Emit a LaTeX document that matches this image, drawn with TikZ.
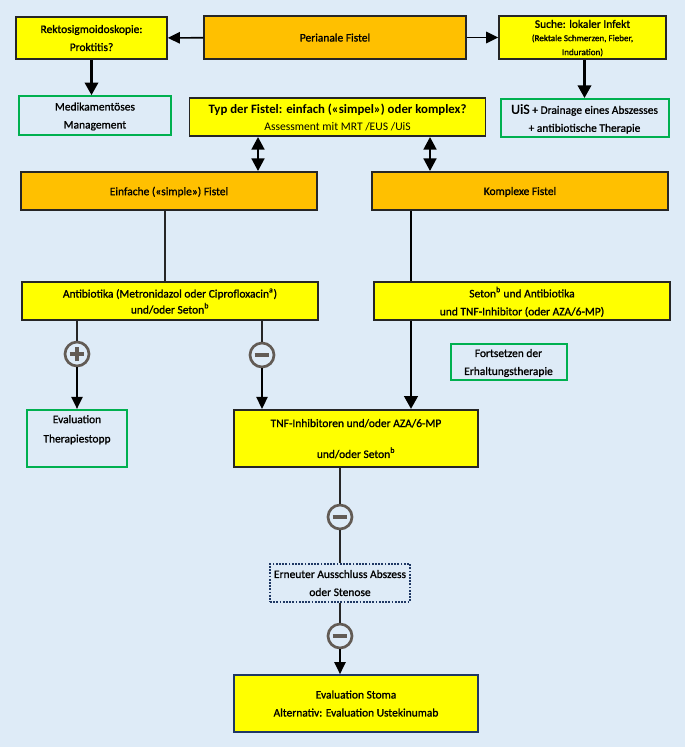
\documentclass[tikz,border=0pt]{standalone}
\usepackage{fontspec}
\setmainfont[BoldFont=Carlito Bold]{Carlito}
\newfontfamily\heavyfont[FakeBold=1.1]{Carlito}
\usetikzlibrary{arrows.meta}
\definecolor{bgblue}{HTML}{DEEBF7}
\definecolor{boxyellow}{HTML}{FFFF00}
\definecolor{boxorange}{HTML}{FFC000}
\definecolor{boxgreen}{HTML}{00B050}
\definecolor{boxdark}{HTML}{262626}
\definecolor{boxnavy}{HTML}{1F3864}
\definecolor{signgray}{HTML}{625B55}
\tikzset{
  flowbox/.style={draw=boxdark,line width=1.4pt,inner sep=0pt,align=center,text depth=0pt,
    font=\heavyfont\fontsize{8.6}{13.5}\selectfont},
  yellowbox/.style={flowbox,fill=boxyellow},
  orangebox/.style={flowbox,fill=boxorange},
  greenbox/.style={flowbox,draw=boxgreen,line width=1.5pt},
  thinline/.style={line width=1.2pt,draw=boxdark},
  thickline/.style={line width=2pt,draw=black},
  thintip/.style={thinline,draw=black,-{Triangle[length=9pt,width=8.5pt]}},
  thicktip/.style={thickline,-{Triangle[length=9.5pt,width=10pt]}},
  bothtip/.style={thickline,{Triangle[length=9.5pt,width=9.5pt]}-{Triangle[length=9.5pt,width=9.5pt]}},
  signnode/.style={circle,draw=signgray,line width=2pt,minimum size=18pt,inner sep=0pt,fill=bgblue},
  minussign/.style={signnode,path picture={
    \draw[signgray,line width=3pt] ([xshift=-5.5pt]path picture bounding box.center) -- ([xshift=5.5pt]path picture bounding box.center);}},
  plussign/.style={signnode,path picture={
    \draw[signgray,line width=3pt] ([xshift=-5.5pt]path picture bounding box.center) -- ([xshift=5.5pt]path picture bounding box.center);
    \draw[signgray,line width=3pt] ([yshift=-5.5pt]path picture bounding box.center) -- ([yshift=5.5pt]path picture bounding box.center);}}
}
\begin{document}
\begin{tikzpicture}[x=0.75pt,y=-0.75pt]
  \useasboundingbox[fill=bgblue] (0,0) rectangle (685,747);
  % top row
  \node[yellowbox,minimum width=113pt,minimum height=31.5pt] (rekto) at (91.5,38) {Rektosigmoidoskopie:\\Proktitis?};
  \node[orangebox,minimum width=196pt,minimum height=32pt] (peri) at (335,37.5) {Perianale Fistel};
  \node[yellowbox,minimum width=125pt,minimum height=32pt] (suche) at (582.5,37.5) {Suche: lokaler Infekt\\[-3.5pt]{\fontsize{6.8}{9}\selectfont (Rektale Schmerzen, Fieber,}\\[-3pt]{\fontsize{6.8}{9}\selectfont Induration)}};
  % second row
  \node[greenbox,minimum width=114pt,minimum height=29pt] (medik) at (95,115.5) {Medikamentöses\\Management};
  \node[yellowbox,minimum width=222pt,minimum height=28.5pt,font=\fontsize{9.6}{13}\selectfont] (typ) at (337.5,117) {\textbf{Typ der Fistel: einfach («simpel») oder komplex?}\\{\fontsize{8.7}{10}\selectfont Assessment mit MRT /EUS /UiS}};
  \node[greenbox,minimum width=126pt,minimum height=28.5pt] (uis) at (584.5,118) {{\fontsize{10.5}{13}\selectfont UiS} + Drainage eines Abszesses\\+ antibiotische Therapie};
  % fistula types
  \node[orangebox,minimum width=222pt,minimum height=28.5pt] (einfach) at (169,191) {Einfache («simple») Fistel};
  \node[orangebox,minimum width=222pt,minimum height=28.5pt] (komplex) at (520,191) {Komplexe Fistel};
  % first treatment
  \node[yellowbox,minimum width=222pt,minimum height=28.5pt] (anti) at (170,301) {Antibiotika (Metronidazol oder Ciprofloxacin\textsuperscript{a})\\[-1.5pt]und/oder Seton\textsuperscript{b}};
  \node[yellowbox,minimum width=222pt,minimum height=28.5pt] (seton) at (522,301) {Seton\textsuperscript{b} und Antibiotika\\und TNF-Inhibitor (oder AZA/6-MP)};
  \node[greenbox,minimum width=87pt,minimum height=27pt] (fort) at (508.5,362) {Fortsetzen der\\Erhaltungstherapie};
  % signs
  \node[plussign] (plusa) at (77,354) {};
  \node[minussign] (minusa) at (262,355) {};
  \node[minussign] (minusb) at (340,517) {};
  \node[minussign] (minusc) at (340,636) {};
  % second treatment
  \node[greenbox,minimum width=75pt,minimum height=43pt,font=\heavyfont\fontsize{8.6}{14.5}\selectfont] (eval) at (77,438.5) {Evaluation\\Therapiestopp\\ };
  \node[yellowbox,minimum width=183pt,minimum height=43pt,font=\heavyfont\fontsize{8.6}{11.6}\selectfont] (tnf) at (356,438.5) {TNF-Inhibitoren und/oder AZA/6-MP\\ \\und/oder Seton\textsuperscript{b}};
  \node[flowbox,draw=boxnavy,densely dotted,minimum width=105pt,minimum height=28.5pt,line width=1.1pt] (ern) at (340,583) {Erneuter Ausschluss Abszess\\oder Stenose};
  \node[yellowbox,draw=boxnavy,line width=1.1pt,minimum width=183pt,minimum height=43pt] (stoma) at (356,703.5) {Evaluation Stoma\\Alternativ: Evaluation Ustekinumab};
  % connectors
  \draw[thintip] (peri) -- (rekto);
  \draw[thintip] (peri) -- (suche);
  \draw[thicktip] (rekto.south) -- (rekto.south |- medik.north);
  \draw[thicktip] (uis.north |- suche.south) -- (uis.north);
  \coordinate (typleft) at (258,0);
  \coordinate (typright) at (430,0);
  \coordinate (komplexdown) at (411,0);
  \draw[bothtip] (typ.south -| typleft) -- (einfach.north -| typleft);
  \draw[bothtip] (typ.south -| typright) -- (komplex.north -| typright);
  \coordinate (einfachdown) at (165,0);
  \draw[thinline] (einfach.south -| einfachdown) -- (anti.north -| einfachdown);
  \draw[thickline] (komplex.south -| komplexdown) -- (seton.north -| komplexdown);
  \draw[thicktip] (seton.south -| komplexdown) -- (tnf.north -| komplexdown);
  \draw[thinline] (anti.south -| plusa) -- (plusa);
  \draw[thintip] (plusa) -- (eval.north -| plusa);
  \draw[thinline] (anti.south -| minusa) -- (minusa);
  \draw[thintip] (minusa) -- (tnf.north -| minusa);
  \draw[thinline] (tnf.south -| minusb) -- (minusb);
  \draw[thinline] (minusb) -- (ern.north -| minusb);
  \draw[thinline] (ern.south -| minusc) -- (minusc);
  \draw[thintip] (minusc) -- (stoma.north -| minusc);
\end{tikzpicture}
\end{document}
